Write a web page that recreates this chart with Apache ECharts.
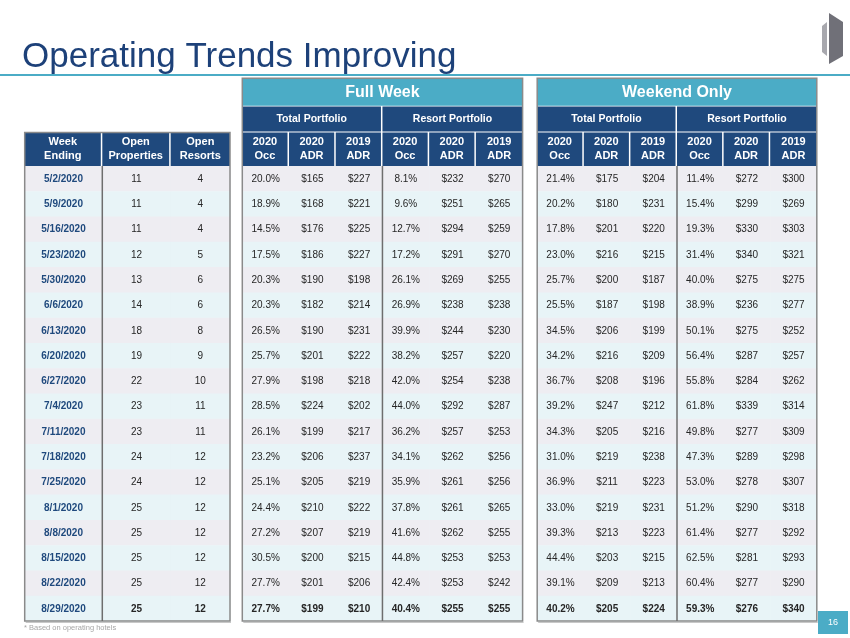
<!DOCTYPE html>
<html><head><meta charset="utf-8">
<script src="https://cdn.jsdelivr.net/npm/echarts@6/dist/echarts.min.js"></script>
<style>html,body{margin:0;padding:0;background:#fff}#c{width:850px;height:638px}</style>
</head><body><div id="c"></div>
<script>
// ---------- DATA ----------
const weeks = ['5/2/2020','5/9/2020','5/16/2020','5/23/2020','5/30/2020','6/6/2020','6/13/2020','6/20/2020','6/27/2020','7/4/2020','7/11/2020','7/18/2020','7/25/2020','8/1/2020','8/8/2020','8/15/2020','8/22/2020','8/29/2020'];
const openProperties = [11,11,11,12,13,14,18,19,22,23,23,24,24,25,25,25,25,25];
const openResorts = [4,4,4,5,6,6,8,9,10,11,11,12,12,12,12,12,12,12];

const fwTotalOcc2020 = [20.0,18.9,14.5,17.5,20.3,20.3,26.5,25.7,27.9,28.5,26.1,23.2,25.1,24.4,27.2,30.5,27.7,27.7];
const fwTotalAdr2020 = [165,168,176,186,190,182,190,201,198,224,199,206,205,210,207,200,201,199];
const fwTotalAdr2019 = [227,221,225,227,198,214,231,222,218,202,217,237,219,222,219,215,206,210];
const fwResortOcc2020 = [8.1,9.6,12.7,17.2,26.1,26.9,39.9,38.2,42.0,44.0,36.2,34.1,35.9,37.8,41.6,44.8,42.4,40.4];
const fwResortAdr2020 = [232,251,294,291,269,238,244,257,254,292,257,262,261,261,262,253,253,255];
const fwResortAdr2019 = [270,265,259,270,255,238,230,220,238,287,253,256,256,265,255,253,242,255];

const weTotalOcc2020 = [21.4,20.2,17.8,23.0,25.7,25.5,34.5,34.2,36.7,39.2,34.3,31.0,36.9,33.0,39.3,44.4,39.1,40.2];
const weTotalAdr2020 = [175,180,201,216,200,187,206,216,208,247,205,219,211,219,213,203,209,205];
const weTotalAdr2019 = [204,231,220,215,187,198,199,209,196,212,216,238,223,231,223,215,213,224];
const weResortOcc2020 = [11.4,15.4,19.3,31.4,40.0,38.9,50.1,56.4,55.8,61.8,49.8,47.3,53.0,51.2,61.4,62.5,60.4,59.3];
const weResortAdr2020 = [272,299,330,340,275,236,275,287,284,339,277,289,278,290,277,281,277,276];
const weResortAdr2019 = [300,269,303,321,275,277,252,257,262,314,309,298,307,318,292,293,290,340];

const leftHeaders = ['Week\nEnding','Open\nProperties','Open\nResorts'];
const metricHeaders = ['2020\nOcc','2020\nADR','2019\nADR','2020\nOcc','2020\nADR','2019\nADR'];
const groupHeaders = ['Total Portfolio','Resort Portfolio'];
const bandFull = 'Full Week';
const bandWeekend = 'Weekend Only';
const footnote = '* Based on operating hotels';
const titleText = 'Operating Trends Improving';
const pageNo = '16';

// ---------- STYLE / LAYOUT ----------
const FONT = '"Liberation Sans", Arial, Helvetica, sans-serif';
const NAVY = '#1F497D';
const TITLE_NAVY = '#1D4179';
const TEAL = '#4BACC6';
const ROW_A = '#EEEDF2';
const ROW_B = '#E8F4F7';
const FRAME = '#8A8A8A';
const NROWS = weeks.length;

const fmtPct = v => v.toFixed(1) + '%';
const fmtUsd = v => '$' + v;
const fmtInt = v => String(v);
const fmtStr = v => v;

const panels = [
  { left: 24.7, width: 205.3, edges: [0, 1.134, 2.133, 3],
    cols: [[weeks, fmtStr, true], [openProperties, fmtInt], [openResorts, fmtInt]],
    heads: leftHeaders, groups: null, band: null, divider: 1 },
  { left: 242.3, width: 280.3, edges: [0,1,2,3,4,5,6],
    cols: [[fwTotalOcc2020, fmtPct],[fwTotalAdr2020, fmtUsd],[fwTotalAdr2019, fmtUsd],[fwResortOcc2020, fmtPct],[fwResortAdr2020, fmtUsd],[fwResortAdr2019, fmtUsd]],
    heads: metricHeaders, groups: groupHeaders, band: bandFull, divider: 3 },
  { left: 537.2, width: 279.6, edges: [0,1,2,3,4,5,6],
    cols: [[weTotalOcc2020, fmtPct],[weTotalAdr2020, fmtUsd],[weTotalAdr2019, fmtUsd],[weResortOcc2020, fmtPct],[weResortAdr2020, fmtUsd],[weResortAdr2019, fmtUsd]],
    heads: metricHeaders, groups: groupHeaders, band: bandWeekend, divider: 3 }
];

const DATA_TOP = 166, DATA_H = 455;
const COLHEAD_H = 33.5, GROUP_TOP = 106.6, GROUP_BOT = 131.6, BAND_TOP = 78.3, BAND_BOT = 105.8;

const grids = [], xAxes = [], yAxes = [], series = [];

panels.forEach((p, pi) => {
  grids.push({ left: p.left, top: DATA_TOP, width: p.width, height: DATA_H });
  xAxes.push({ gridIndex: pi, type: 'value', min: 0, max: p.edges[p.edges.length - 1], show: false });
  yAxes.push({ gridIndex: pi, type: 'value', min: 0, max: NROWS, inverse: true, show: false });

  const items = [];
  p.cols.forEach((col, c) => {
    const [arr, fmt, isDate] = col;
    arr.forEach((v, r) => items.push({ kind: 'cell', col: c, row: r, text: fmt(v), isDate: !!isDate, bold: !!isDate || r === NROWS - 1 }));
  });
  p.heads.forEach((h, c) => items.push({ kind: 'colhead', col: c, row: -1, text: h }));
  if (p.groups) p.groups.forEach((g, gi) => items.push({ kind: 'group', col: gi, row: -2, text: g }));
  if (p.band) items.push({ kind: 'band', col: 0, row: -3, text: p.band });
  items.push({ kind: 'frame', col: 0, row: 0 });

  const edges = p.edges;
  const ncols = edges.length - 1;
  series.push({
    type: 'custom', xAxisIndex: pi, yAxisIndex: pi, silent: true, clip: false,
    data: items.map(it => [it.col, it.row]),
    renderItem: function (params, api) {
      const it = items[params.dataIndex];
      const c = api.value(0), r = api.value(1);
      const top = api.coord([0, 0])[1];
      const bottom = api.coord([0, NROWS])[1];
      if (it.kind === 'cell') {
        const a = api.coord([edges[c], r]);
        const b = api.coord([edges[c + 1], r + 1]);
        return { type: 'group', children: [
          { type: 'rect', shape: { x: a[0], y: a[1], width: b[0] - a[0] + 0.5, height: b[1] - a[1] + 0.5 }, style: { fill: r % 2 === 0 ? ROW_A : ROW_B } },
          { type: 'text', style: { text: it.text, x: (a[0] + b[0]) / 2, y: (a[1] + b[1]) / 2 + 0.5, align: 'center', verticalAlign: 'middle',
            fontFamily: FONT, fontSize: 10, fontWeight: it.bold ? 'bold' : 'normal', fill: it.isDate ? NAVY : '#262626' } }
        ]};
      }
      if (it.kind === 'colhead') {
        const a = api.coord([edges[c], 0]);
        const b = api.coord([edges[c + 1], 0]);
        const x1 = c < ncols - 1 ? b[0] - 1.5 : b[0];
        return { type: 'group', children: [
          { type: 'rect', shape: { x: a[0], y: top - COLHEAD_H, width: x1 - a[0], height: COLHEAD_H }, style: { fill: NAVY } },
          { type: 'text', style: { text: it.text, x: (a[0] + x1) / 2, y: top - COLHEAD_H / 2, align: 'center', verticalAlign: 'middle',
            fontFamily: FONT, fontSize: 11, fontWeight: 'bold', fill: '#FFFFFF', lineHeight: 14 } }
        ]};
      }
      if (it.kind === 'group') {
        const a = api.coord([edges[c * 3], 0]);
        const b = api.coord([edges[c * 3 + 3], 0]);
        const x1 = c === 0 ? b[0] - 1.5 : b[0];
        return { type: 'group', children: [
          { type: 'rect', shape: { x: a[0], y: GROUP_TOP, width: x1 - a[0], height: GROUP_BOT - GROUP_TOP }, style: { fill: NAVY } },
          { type: 'text', style: { text: it.text, x: (a[0] + x1) / 2, y: (GROUP_TOP + GROUP_BOT) / 2, align: 'center', verticalAlign: 'middle',
            fontFamily: FONT, fontSize: 10.5, fontWeight: 'bold', fill: '#FFFFFF' } }
        ]};
      }
      if (it.kind === 'band') {
        const a = api.coord([edges[0], 0]);
        const b = api.coord([edges[ncols], 0]);
        return { type: 'group', children: [
          { type: 'rect', shape: { x: a[0], y: BAND_TOP, width: b[0] - a[0], height: BAND_BOT - BAND_TOP }, style: { fill: TEAL } },
          { type: 'text', style: { text: it.text, x: (a[0] + b[0]) / 2, y: (BAND_TOP + BAND_BOT) / 2 + 0.5, align: 'center', verticalAlign: 'middle',
            fontFamily: FONT, fontSize: 16, fontWeight: 'bold', fill: '#FFFFFF' } }
        ]};
      }
      // frame
      const a = api.coord([edges[0], 0]);
      const b = api.coord([edges[ncols], NROWS]);
      const d = api.coord([edges[p.divider], 0]);
      const frameTop = p.band ? BAND_TOP : top - COLHEAD_H;
      return { type: 'group', children: [
        { type: 'rect', shape: { x: a[0], y: frameTop, width: b[0] - a[0], height: b[1] - frameTop }, style: { fill: null, stroke: FRAME, lineWidth: 1.5 } },
        { type: 'line', shape: { x1: d[0], y1: top, x2: d[0], y2: bottom }, style: { stroke: '#6E6E6E', lineWidth: 1.5 } },
        { type: 'line', shape: { x1: a[0] + 1, y1: b[1] + 1.5, x2: b[0] + 1, y2: b[1] + 1.5 }, style: { stroke: '#C8C8C8', lineWidth: 1 } }
      ]};
    }
  });
});

const chart = echarts.init(document.getElementById('c'), null, { renderer: 'canvas' });
chart.setOption({
  animation: false,
  backgroundColor: '#FFFFFF',
  grid: grids, xAxis: xAxes, yAxis: yAxes, series: series,
  graphic: [
    { type: 'text', left: 22, top: 40, style: { text: titleText, fontFamily: FONT, fontSize: 35, fill: TITLE_NAVY } },
    { type: 'rect', shape: { x: 0, y: 74, width: 850, height: 2 }, style: { fill: TEAL } },
    { type: 'text', left: 24, top: 624, style: { text: footnote, fontFamily: FONT, fontSize: 7.5, fill: '#A6A6A6' } },
    { type: 'rect', shape: { x: 818, y: 611, width: 30, height: 23 }, style: { fill: TEAL } },
    { type: 'text', style: { text: pageNo, x: 833, y: 622.5, align: 'center', verticalAlign: 'middle', fontFamily: FONT, fontSize: 9, fill: '#FFFFFF' } },
    { type: 'polygon', shape: { points: [[822, 26], [827, 22], [827, 56], [822, 52]] }, style: { fill: '#A8A8AE' } },
    { type: 'polygon', shape: { points: [[829, 13], [843, 22], [843, 56], [829, 64]] }, style: { fill: '#707078' } }
  ]
});
</script>
</body></html>
